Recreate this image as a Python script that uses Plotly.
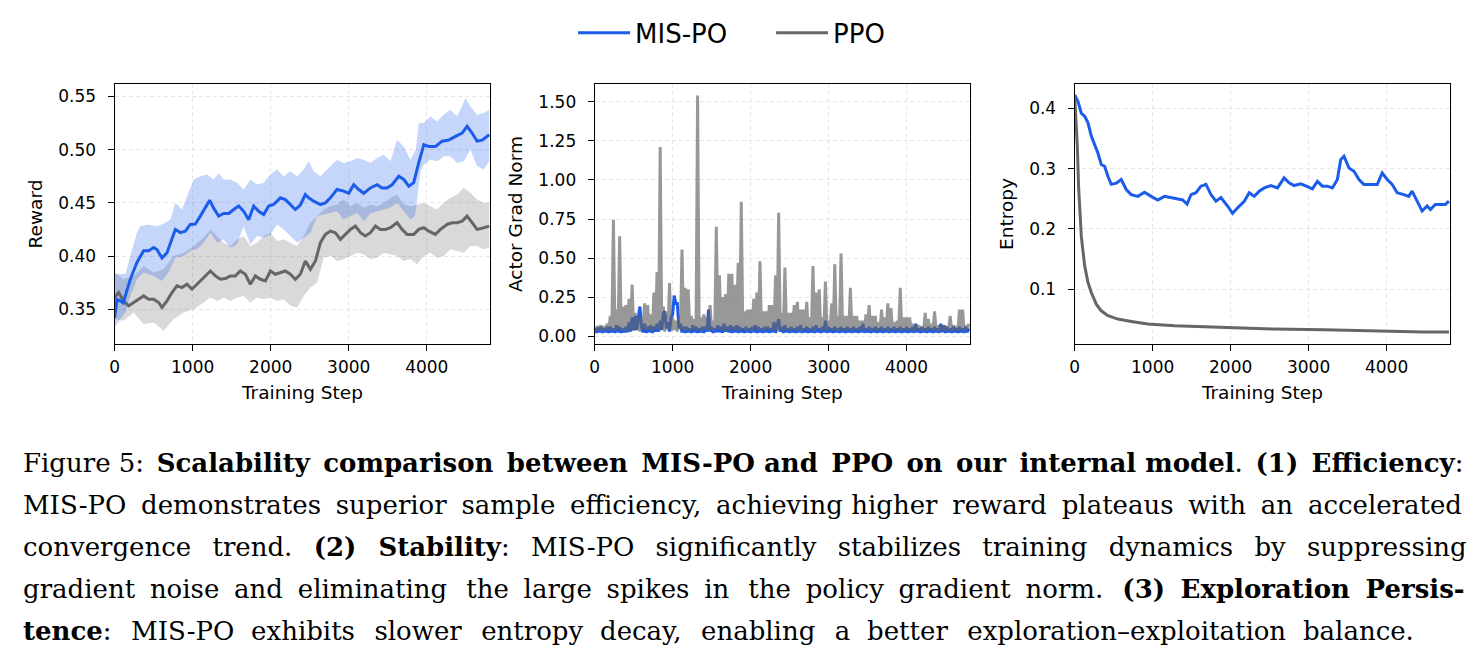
import plotly.graph_objects as go

# ---------------- Data: Reward ----------------
rw_mis_steps = [0, 30, 70, 110, 137, 200, 286, 372, 436, 500, 543, 607, 671, 714, 778, 842, 906, 970, 1034, 1098,
                1162, 1218, 1269, 1333, 1397, 1462, 1526, 1590, 1654, 1718, 1782, 1846, 1910, 1974, 2038, 2124, 2188,
                2252, 2316, 2380, 2444, 2487, 2551, 2637, 2701, 2765, 2850, 2936, 3000, 3064, 3128, 3192, 3278, 3363,
                3427, 3491, 3555, 3641, 3705, 3769, 3833, 3897, 3962, 4026, 4111, 4197, 4282, 4368, 4453, 4517, 4581,
                4645, 4709, 4800]
rw_mis_mean = [0.342, 0.359, 0.358, 0.356, 0.3625, 0.378, 0.394, 0.405, 0.405, 0.408, 0.406, 0.398, 0.403, 0.4125,
               0.425, 0.422, 0.4234, 0.4297, 0.430, 0.4375, 0.445, 0.4525, 0.445, 0.4375, 0.440, 0.440, 0.4437, 0.447,
               0.442, 0.434, 0.447, 0.442, 0.439, 0.447, 0.4484, 0.4547, 0.453, 0.448, 0.4437, 0.448, 0.4578, 0.4547,
               0.4516, 0.4484, 0.450, 0.4547, 0.4625, 0.461, 0.459, 0.467, 0.4625, 0.459, 0.464, 0.467, 0.464, 0.464,
               0.467, 0.475, 0.472, 0.4656, 0.469, 0.4875, 0.5047, 0.503, 0.503, 0.508, 0.509, 0.5125, 0.5156, 0.522,
               0.5156, 0.508, 0.509, 0.514]

rw_ppo_steps = [0, 51, 115, 179, 244, 308, 372, 436, 500, 564, 607, 671, 735, 799, 863, 927, 991, 1056, 1141, 1226,
                1291, 1355, 1419, 1483, 1547, 1611, 1675, 1739, 1803, 1868, 1932, 1996, 2060, 2124, 2188, 2252, 2316,
                2380, 2444, 2509, 2573, 2637, 2701, 2765, 2829, 2893, 2957, 3021, 3085, 3150, 3214, 3278, 3342, 3406,
                3470, 3534, 3620, 3684, 3748, 3833, 3897, 3962, 4026, 4111, 4175, 4261, 4325, 4389, 4453, 4517, 4581,
                4645, 4731, 4800]
rw_ppo_mean = [0.361, 0.3656, 0.3578, 0.3531, 0.3563, 0.3594, 0.3625, 0.3594, 0.3594, 0.3563, 0.3516, 0.3578, 0.3656,
               0.3719, 0.3703, 0.3734, 0.3688, 0.3734, 0.3797, 0.3859, 0.3813, 0.3781, 0.3788, 0.3813, 0.3813, 0.3859,
               0.3828, 0.3734, 0.3813, 0.3781, 0.3766, 0.3859, 0.3828, 0.3844, 0.3859, 0.3828, 0.3781, 0.3828, 0.3953,
               0.3875, 0.3953, 0.4125, 0.4203, 0.4234, 0.4219, 0.4156, 0.4203, 0.425, 0.4281, 0.4219, 0.4188, 0.4219,
               0.4281, 0.425, 0.425, 0.4266, 0.4313, 0.425, 0.4203, 0.4203, 0.425, 0.4266, 0.4234, 0.4203, 0.425,
               0.4297, 0.4313, 0.4313, 0.4328, 0.4375, 0.4313, 0.425, 0.4266, 0.4281]

rw_mis_up_steps = [0, 140, 200, 286, 329, 415, 543, 650, 714, 778, 863, 927, 1013, 1098, 1184, 1269, 1333, 1397, 1483,
                   1568, 1654, 1739, 1825, 1910, 1996, 2081, 2167, 2252, 2338, 2423, 2487, 2551, 2637, 2765, 2850,
                   2936, 3021, 3107, 3192, 3278, 3363, 3449, 3534, 3620, 3705, 3791, 3860, 3897, 3962, 4047, 4132,
                   4218, 4303, 4389, 4496, 4560, 4645, 4731, 4800]
rw_mis_upper = [0.383, 0.383, 0.40, 0.4219, 0.4281, 0.4297, 0.4281, 0.4313, 0.4344, 0.45, 0.4438, 0.4563, 0.4719,
                0.475, 0.4766, 0.4719, 0.4781, 0.4719, 0.4719, 0.4688, 0.4625, 0.4719, 0.4672, 0.4688, 0.4766, 0.4813,
                0.475, 0.4797, 0.475, 0.4813, 0.4891, 0.4797, 0.475, 0.4844, 0.4906, 0.4875, 0.4891, 0.4922, 0.4906,
                0.4875, 0.4922, 0.4953, 0.4891, 0.5094, 0.5031, 0.4906, 0.50, 0.525, 0.525, 0.5313, 0.5266, 0.5328,
                0.5375, 0.5313, 0.5484, 0.5406, 0.5328, 0.5344, 0.5375]
rw_mis_lo_steps = [0, 137, 200, 286, 372, 500, 607, 692, 778, 885, 970, 1056, 1141, 1226, 1312, 1397, 1483, 1568,
                   1654, 1739, 1825, 1910, 1996, 2081, 2167, 2252, 2338, 2423, 2509, 2594, 2680, 2765, 2850, 2936,
                   3021, 3107, 3192, 3278, 3363, 3449, 3534, 3620, 3705, 3791, 3850, 3920, 3962, 4047, 4132, 4218,
                   4303, 4389, 4474, 4560, 4645, 4731, 4800]
rw_mis_lower = [0.333, 0.3469, 0.3625, 0.3781, 0.3844, 0.3813, 0.3766, 0.3844, 0.3984, 0.40, 0.4047, 0.4063, 0.4125,
                0.4219, 0.4125, 0.4156, 0.4078, 0.4109, 0.4281, 0.4109, 0.4188, 0.4172, 0.42, 0.4297, 0.425, 0.4188,
                0.4125, 0.4172, 0.4219, 0.4375, 0.4391, 0.4406, 0.4422, 0.4344, 0.4375, 0.4406, 0.4328, 0.44, 0.4422,
                0.4438, 0.4453, 0.45, 0.4422, 0.4344, 0.4375, 0.48, 0.4859, 0.4906, 0.4891, 0.4938, 0.4938, 0.4875,
                0.4891, 0.50, 0.4844, 0.4813, 0.4891]

rw_ppo_band_steps = [0, 115, 244, 372, 500, 628, 756, 885, 1013, 1141, 1226, 1312, 1397, 1483, 1568, 1654, 1739, 1825,
                     1910, 1996, 2081, 2167, 2252, 2338, 2423, 2509, 2594, 2680, 2765, 2850, 2936, 3021, 3107, 3192,
                     3278, 3363, 3449, 3534, 3620, 3705, 3791, 3876, 3962, 4047, 4132, 4218, 4303, 4389, 4474, 4560,
                     4645, 4731, 4800]
rw_ppo_upper = [0.3844, 0.3781, 0.3813, 0.3906, 0.3844, 0.3875, 0.40, 0.4031, 0.4094, 0.4172, 0.425, 0.4188, 0.4125,
                0.4094, 0.4156, 0.4188, 0.4094, 0.4125, 0.4188, 0.4219, 0.4141, 0.4156, 0.4125, 0.4094, 0.4188, 0.4313,
                0.4375, 0.4438, 0.4469, 0.4484, 0.4531, 0.4469, 0.45, 0.4453, 0.4484, 0.4469, 0.45, 0.4547, 0.4578,
                0.4484, 0.4469, 0.4484, 0.45, 0.4469, 0.4438, 0.45, 0.4547, 0.4578, 0.4641, 0.4594, 0.4531, 0.45, 0.45]
rw_ppo_lower = [0.3406, 0.3391, 0.3469, 0.3359, 0.3375, 0.3297, 0.3406, 0.3469, 0.35, 0.3563, 0.3609, 0.3578, 0.3609,
                0.3578, 0.3609, 0.3625, 0.3563, 0.3609, 0.3594, 0.3609, 0.3578, 0.3594, 0.3531, 0.3516, 0.3625, 0.3703,
                0.375, 0.3984, 0.40, 0.3953, 0.3969, 0.40, 0.4031, 0.4016, 0.3969, 0.3984, 0.4031, 0.4016, 0.40,
                0.3953, 0.3969, 0.3922, 0.40, 0.4031, 0.3984, 0.40, 0.4063, 0.4047, 0.4031, 0.4094, 0.4094, 0.4063,
                0.4078]

# ---------------- Data: Actor grad norm ----------------
# PPO: local peaks logged at steps 0, 40, 80, ... and troughs at steps 20, 60, 100, ...
gn_ppo_peak_steps = list(range(0, 4801, 40))
gn_ppo_peaks = [0.06, 0.065, 0.07, 0.065, 0.08, 0.13, 0.745, 0.17, 0.64, 0.19,
                0.20, 0.24, 0.33, 0.15, 0.12, 0.12, 0.21, 0.20, 0.14, 0.28,
                0.41, 1.21, 0.19, 0.15, 0.34, 0.12, 0.10, 0.12, 0.555, 0.31,
                0.30, 0.13, 0.11, 1.54, 0.12, 0.14, 0.12, 0.20, 0.10, 0.70,
                0.39, 0.25, 0.27, 0.40, 0.40, 0.33, 0.47, 0.86, 0.16, 0.17,
                0.17, 0.24, 0.28, 0.48, 0.16, 0.16, 0.20, 0.20, 0.39, 0.79,
                0.15, 0.44, 0.15, 0.15, 0.20, 0.22, 0.17, 0.17, 0.22, 0.12,
                0.45, 0.28, 0.30, 0.12, 0.35, 0.10, 0.21, 0.46, 0.13, 0.53,
                0.13, 0.13, 0.31, 0.13, 0.13, 0.10, 0.10, 0.14, 0.20, 0.13,
                0.13, 0.09, 0.17, 0.12, 0.21, 0.18, 0.09, 0.10, 0.31, 0.12,
                0.12, 0.12, 0.08, 0.07, 0.07, 0.06, 0.15, 0.11, 0.08, 0.16,
                0.07, 0.065, 0.07, 0.065, 0.13, 0.07, 0.065, 0.17, 0.17, 0.07,
                0.08]
gn_ppo_trough_steps = list(range(20, 4801, 40))
gn_ppo_troughs = [0.035, 0.04, 0.03, 0.045, 0.035, 0.04, 0.032, 0.045, 0.035, 0.04,
                  0.03, 0.045, 0.035, 0.04, 0.03, 0.045, 0.038, 0.04, 0.03, 0.045,
                  0.035, 0.042, 0.03, 0.045, 0.035, 0.04, 0.03, 0.045, 0.035, 0.04,
                  0.033, 0.045, 0.035, 0.04, 0.03, 0.045, 0.035, 0.04, 0.03, 0.045,
                  0.035, 0.04, 0.03, 0.045, 0.035, 0.04, 0.03, 0.045, 0.036, 0.04,
                  0.03, 0.045, 0.035, 0.04, 0.03, 0.045, 0.035, 0.04, 0.03, 0.045,
                  0.035, 0.04, 0.03, 0.045, 0.035, 0.04, 0.03, 0.045, 0.035, 0.04,
                  0.03, 0.045, 0.035, 0.04, 0.03, 0.045, 0.035, 0.04, 0.03, 0.045,
                  0.035, 0.04, 0.03, 0.045, 0.035, 0.04, 0.03, 0.045, 0.035, 0.04,
                  0.03, 0.045, 0.035, 0.04, 0.03, 0.045, 0.035, 0.04, 0.03, 0.045,
                  0.035, 0.04, 0.03, 0.045, 0.035, 0.04, 0.03, 0.045, 0.035, 0.04,
                  0.03, 0.045, 0.035, 0.04, 0.03, 0.045, 0.035, 0.04, 0.03, 0.045]
# MIS-PO: logged every 20 steps
gn_mis_steps = list(range(0, 4801, 20))
gn_mis = [0.05, 0.022, 0.055, 0.026, 0.06, 0.022, 0.05, 0.026, 0.06, 0.022,
          0.06, 0.026, 0.05, 0.022, 0.07, 0.026, 0.06, 0.022, 0.05, 0.026,
          0.06, 0.025, 0.09, 0.03, 0.12, 0.04, 0.13, 0.04, 0.12, 0.19,
          0.06, 0.025, 0.08, 0.022, 0.06, 0.026, 0.07, 0.022, 0.06, 0.03,
          0.08, 0.03, 0.10, 0.04, 0.15, 0.16, 0.05, 0.09, 0.03, 0.12,
          0.14, 0.26, 0.21, 0.21, 0.05, 0.08, 0.025, 0.06, 0.022, 0.06,
          0.026, 0.05, 0.022, 0.07, 0.026, 0.06, 0.022, 0.05, 0.026, 0.06,
          0.022, 0.06, 0.03, 0.17, 0.03, 0.06, 0.022, 0.05, 0.026, 0.07,
          0.026, 0.06, 0.022, 0.08, 0.03, 0.06, 0.026, 0.07, 0.022, 0.06,
          0.026, 0.07, 0.022, 0.06, 0.026, 0.05, 0.022, 0.06, 0.026, 0.05,
          0.022, 0.06, 0.026, 0.07, 0.022, 0.06, 0.026, 0.05, 0.022, 0.06,
          0.026, 0.06, 0.022, 0.05, 0.026, 0.09, 0.022, 0.06, 0.11, 0.03,
          0.06, 0.022, 0.07, 0.026, 0.05, 0.022, 0.06, 0.026, 0.05, 0.022,
          0.06, 0.026, 0.07, 0.022, 0.05, 0.026, 0.06, 0.022, 0.05, 0.026,
          0.06, 0.022, 0.07, 0.026, 0.05, 0.022, 0.06, 0.026, 0.10, 0.022,
          0.06, 0.026, 0.05, 0.022, 0.06, 0.026, 0.05, 0.022, 0.06, 0.026,
          0.05, 0.022, 0.06, 0.026, 0.05, 0.022, 0.06, 0.026, 0.05, 0.022,
          0.06, 0.026, 0.08, 0.022, 0.05, 0.026, 0.06, 0.022, 0.05, 0.026,
          0.06, 0.022, 0.05, 0.026, 0.06, 0.022, 0.05, 0.026, 0.06, 0.022,
          0.05, 0.026, 0.06, 0.022, 0.05, 0.026, 0.06, 0.022, 0.05, 0.026,
          0.06, 0.022, 0.05, 0.026, 0.06, 0.022, 0.08, 0.026, 0.05, 0.022,
          0.06, 0.026, 0.05, 0.022, 0.06, 0.026, 0.05, 0.022, 0.06, 0.026,
          0.05, 0.022, 0.08, 0.026, 0.07, 0.022, 0.06, 0.026, 0.05, 0.022,
          0.06, 0.026, 0.05, 0.022, 0.06, 0.026, 0.05, 0.022, 0.06, 0.026,
          0.05]

# ---------------- Data: Entropy ----------------
ent_mis_steps = [0, 43, 85, 128, 171, 213, 256, 298, 341, 384, 426, 469, 533, 597, 661, 725, 810, 895, 981, 1066,
                 1151, 1237, 1322, 1386, 1441, 1492, 1556, 1620, 1684, 1748, 1812, 1876, 1961, 2025, 2089, 2175, 2239,
                 2303, 2367, 2431, 2516, 2601, 2686, 2750, 2814, 2900, 2985, 3049, 3113, 3177, 3241, 3305, 3369, 3412,
                 3454, 3518, 3582, 3646, 3710, 3795, 3880, 3944, 4008, 4072, 4136, 4221, 4285, 4328, 4392, 4456, 4520,
                 4562, 4626, 4690, 4754, 4800]
ent_mis = [0.4226, 0.4116, 0.392, 0.387, 0.376, 0.354, 0.34, 0.326, 0.307, 0.304, 0.2875, 0.274, 0.276, 0.282, 0.2654,
           0.257, 0.254, 0.261, 0.254, 0.248, 0.254, 0.252, 0.249, 0.248, 0.241, 0.257, 0.26, 0.271, 0.274, 0.257,
           0.246, 0.252, 0.238, 0.2257, 0.235, 0.246, 0.26, 0.254, 0.2627, 0.268, 0.272, 0.268, 0.2847, 0.2764, 0.272,
           0.2748, 0.27, 0.2665, 0.279, 0.271, 0.271, 0.268, 0.282, 0.315, 0.3206, 0.301, 0.2958, 0.282, 0.2737,
           0.2737, 0.2737, 0.293, 0.282, 0.2737, 0.26, 0.257, 0.254, 0.2627, 0.246, 0.2296, 0.238, 0.232, 0.2406,
           0.2406, 0.2406, 0.246]
ent_ppo_steps = [0, 20, 34, 50, 64, 85, 100, 128, 171, 213, 277, 341, 426, 554, 725, 938, 1279, 1706, 2132, 2558,
                 3198, 3624, 4050, 4477, 4800]
ent_ppo = [0.42, 0.38, 0.337, 0.27, 0.227, 0.188, 0.17, 0.139, 0.111, 0.0944, 0.075, 0.064, 0.0558, 0.0503, 0.0464,
           0.042, 0.0393, 0.0376, 0.036, 0.0338, 0.0327, 0.031, 0.0299, 0.0288, 0.0288]

# ---------------- Labels ----------------
series_names = ["MIS-PO", "PPO"]
x_ticks = [0, 1000, 2000, 3000, 4000]
reward_ticks = [0.35, 0.40, 0.45, 0.50, 0.55]
grad_ticks = [0.00, 0.25, 0.50, 0.75, 1.00, 1.25, 1.50]
entropy_ticks = [0.1, 0.2, 0.3, 0.4]
caption_lines = [
    "Figure 5: <b>Scalability comparison between MIS-PO and PPO on our internal model</b>. <b>(1) Efficiency</b>:",
    "MIS-PO demonstrates superior sample efficiency, achieving higher reward plateaus with an accelerated",
    "convergence trend. <b>(2) Stability</b>: MIS-PO significantly stabilizes training dynamics by suppressing",
    "gradient noise and eliminating the large spikes in the policy gradient norm. <b>(3) Exploration Persis-</b>",
    "<b>tence</b>: MIS-PO exhibits slower entropy decay, enabling a better exploration\u2013exploitation balance.",
]
# extra inter-word spacing (justified paragraph): (default extra, alternative extra, gaps using the alternative)
caption_gap_spec = [
    ("\u2006", "", {0, 5, 10}),
    ("\u2005", "", {5}),
    ("\u2002", "\u2002", set()),
    ("\u2005", "\u2005\u2006", {3, 7, 11}),
    ("\u2004\u200a", "\u2004", {1, 4, 7, 9}),
]

# ---------------- Style ----------------
BLUE = "#1b5ceb"
GRAY = "#666666"
W, H = 1482, 661
SANS = "DejaVu Sans"


def justify(text, spec):
    base, alt, alt_gaps = spec
    parts = text.split(" ")
    out = parts[0]
    for i, p in enumerate(parts[1:]):
        out += " " + (alt if i in alt_gaps else base) + p
    return out


# merge PPO peaks and troughs into one time-ordered series
gn_ppo_pairs = sorted(zip(gn_ppo_peak_steps + gn_ppo_trough_steps, gn_ppo_peaks + gn_ppo_troughs))
gn_ppo_steps = [s for s, _ in gn_ppo_pairs]
gn_ppo = [v for _, v in gn_ppo_pairs]

fig = go.Figure()

# Panel 1: reward bands + means
fig.add_trace(go.Scatter(x=rw_ppo_band_steps + rw_ppo_band_steps[::-1], y=rw_ppo_upper + rw_ppo_lower[::-1],
                         fill="toself", fillcolor="rgba(102,102,102,0.25)", line=dict(width=0),
                         hoverinfo="skip", showlegend=False, xaxis="x", yaxis="y"))
fig.add_trace(go.Scatter(x=rw_mis_up_steps + rw_mis_lo_steps[::-1], y=rw_mis_upper + rw_mis_lower[::-1],
                         fill="toself", fillcolor="rgba(27,92,235,0.25)", line=dict(width=0),
                         hoverinfo="skip", showlegend=False, xaxis="x", yaxis="y"))
fig.add_trace(go.Scatter(x=rw_ppo_steps, y=rw_ppo_mean, mode="lines", name=series_names[1],
                         line=dict(color=GRAY, width=3), legendrank=2, xaxis="x", yaxis="y"))
fig.add_trace(go.Scatter(x=rw_mis_steps, y=rw_mis_mean, mode="lines", name=series_names[0],
                         line=dict(color=BLUE, width=3), legendrank=1, xaxis="x", yaxis="y"))

# Panel 2: grad norm
fig.add_trace(go.Scatter(x=gn_mis_steps, y=gn_mis, mode="lines", name=series_names[0], showlegend=False,
                         line=dict(color=BLUE, width=3), xaxis="x2", yaxis="y2"))
fig.add_trace(go.Scatter(x=gn_ppo_steps, y=gn_ppo, mode="lines", name=series_names[1], showlegend=False,
                         line=dict(color=GRAY, width=3), opacity=0.67, xaxis="x2", yaxis="y2"))

# Panel 3: entropy
fig.add_trace(go.Scatter(x=ent_mis_steps, y=ent_mis, mode="lines", name=series_names[0], showlegend=False,
                         line=dict(color=BLUE, width=3), xaxis="x3", yaxis="y3"))
fig.add_trace(go.Scatter(x=ent_ppo_steps, y=ent_ppo, mode="lines", name=series_names[1], showlegend=False,
                         line=dict(color=GRAY, width=3), xaxis="x3", yaxis="y3"))

y_dom = [1 - 345.3 / H, 1 - 84 / H]
x_doms = [[110 / W, 487 / W], [591.7 / W, 968.3 / W], [1073.3 / W, 1450 / W]]

common_axis = dict(
    showline=True, mirror=True, linecolor="black", linewidth=1.2,
    ticks="outside", ticklen=6, tickwidth=1.2, tickcolor="black",
    tickfont=dict(family=SANS, size=17, color="black"),
    showgrid=True, gridcolor="#e6e6e6", gridwidth=0.8, griddash="4px,3px",
    zeroline=False,
)


def xaxis_cfg(i):
    return dict(common_axis, domain=x_doms[i], range=[0, 4815], tickvals=x_ticks,
                anchor=["y", "y2", "y3"][i], ticklabelstandoff=1,
                title=dict(text="Training Step", font=dict(family=SANS, size=18.5, color="black"), standoff=10))


def yaxis_cfg(i, rng, ticks, fmt, title):
    return dict(common_axis, domain=y_dom, range=rng, tickvals=ticks, tickformat=fmt,
                anchor=["x", "x2", "x3"][i], ticklabelstandoff=8,
                title=dict(text=title, font=dict(family=SANS, size=18.5, color="black"), standoff=10))


annotations = []
for k, line in enumerate(caption_lines):
    annotations.append(dict(
        text=justify(line, caption_gap_spec[k]), xref="paper", yref="paper",
        x=16 / W, y=1 - (464 + 42.2 * k) / H,
        xanchor="left", yanchor="middle", showarrow=False, align="left",
        font=dict(family="DejaVu Serif", size=26, color="black"),
    ))

fig.update_layout(
    width=W, height=H,
    margin=dict(l=0, r=0, t=0, b=0),
    paper_bgcolor="white", plot_bgcolor="white",
    xaxis=xaxis_cfg(0), xaxis2=xaxis_cfg(1), xaxis3=xaxis_cfg(2),
    yaxis=yaxis_cfg(0, [0.317, 0.562], reward_ticks, ".2f", "Reward"),
    yaxis2=yaxis_cfg(1, [-0.051, 1.615], grad_ticks, ".2f", "Actor Grad Norm"),
    yaxis3=yaxis_cfg(2, [0.0085, 0.441], entropy_ticks, ".1f", "Entropy"),
    legend=dict(orientation="h", x=570 / W, y=1 - 33 / H, xanchor="left", yanchor="middle",
                font=dict(family=SANS, size=26, color="black"), bgcolor="rgba(0,0,0,0)",
                itemwidth=52, entrywidth=131, entrywidthmode="pixels", tracegroupgap=0),
    annotations=annotations,
    showlegend=True,
)

fig.write_html("out.html")
